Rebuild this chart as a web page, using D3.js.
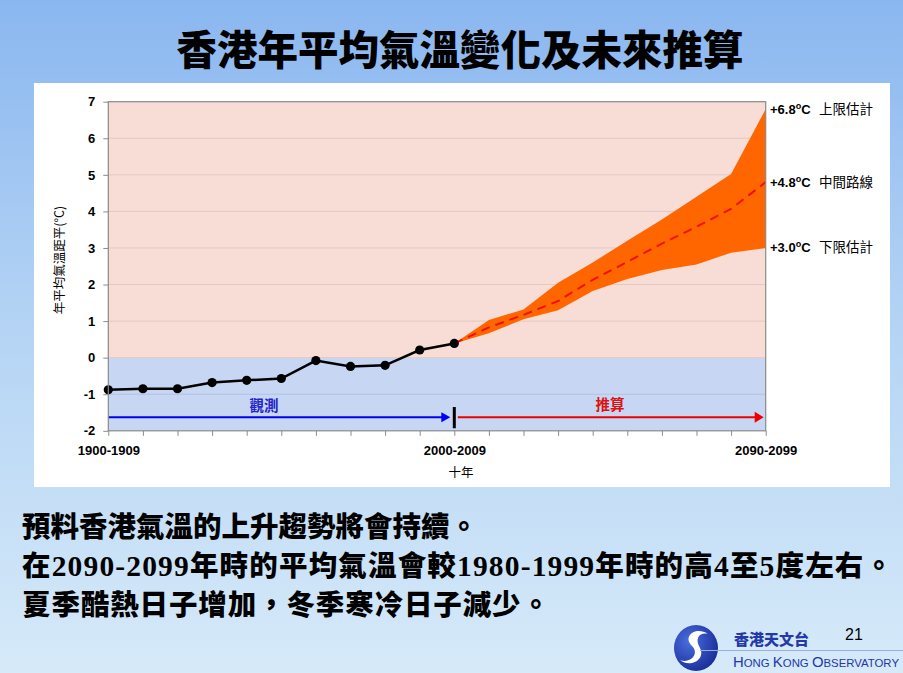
<!DOCTYPE html>
<html><head><meta charset="utf-8">
<script src="https://cdn.jsdelivr.net/npm/d3@7"></script>
<style>
html,body{margin:0;padding:0;overflow:hidden;}
svg{display:block;}
</style></head>
<body>
<script>
// ---------- data ----------
const decades = ["1900-1909","1910-1919","1920-1929","1930-1939","1940-1949","1950-1959","1960-1969","1970-1979","1980-1989","1990-1999",
                 "2000-2009","2010-2019","2020-2029","2030-2039","2040-2049","2050-2059","2060-2069","2070-2079","2080-2089","2090-2099"];
const labelledDecades = ["1900-1909","2000-2009","2090-2099"];
const observed = [-0.88,-0.85,-0.85,-0.68,-0.62,-0.57,-0.08,-0.24,-0.21,0.21,0.39];
const projDecades = decades.slice(10);
const upper  = [0.39,1.03,1.32,2.05,2.60,3.20,3.78,4.40,5.02,6.80];
const middle = [0.39,0.83,1.17,1.55,2.13,2.62,3.12,3.58,4.07,4.80];
const lower  = [0.39,0.67,1.05,1.30,1.82,2.15,2.40,2.55,2.87,3.00];
const yTicks = [-2,-1,0,1,2,3,4,5,6,7];
const endLabels = [
  {v:6.8, num:"+6.8", txt:"上限估計"},
  {v:4.8, num:"+4.8", txt:"中間路線"},
  {v:3.0, num:"+3.0", txt:"下限估計"}
];
const title = "香港年平均氣溫變化及未來推算";
const yTitle = "年平均氣溫距平(°C)";
const xTitle = "十年";
const obsLabel = "觀測", projLabel = "推算";
const arrowY = -1.63;
const bodyLines = [
  [["預料香港氣溫的上升趨勢將會持續。",0]],
  [["在",0],["2090-2099",1],["年時的平均氣溫會較",0],["1980-1999",1],["年時的高",0],["4",1],["至",0],["5",1],["度左右。",0]],
  [["夏季酷熱日子增加，冬季寒冷日子減少。",0]]
];
const bodyWidths = [456, 871, 528];
const bodyBaselines = [537, 576, 614.5];

// ---------- page ----------
const W = 903, H = 673;
const svg = d3.select("body").append("svg").attr("width",W).attr("height",H);
const defs = svg.append("defs");
const bg = defs.append("linearGradient").attr("id","bg").attr("x1",0).attr("y1",0).attr("x2",0).attr("y2",1);
bg.append("stop").attr("offset","0%").attr("stop-color","#8ab7f0");
bg.append("stop").attr("offset","45%").attr("stop-color","#b2d2f4");
bg.append("stop").attr("offset","100%").attr("stop-color","#d6eaf9");
svg.append("rect").attr("width",W).attr("height",H).attr("fill","url(#bg)");

svg.append("text").attr("x",460).attr("y",65).attr("text-anchor","middle")
  .attr("font-family","'Noto Sans CJK TC'").attr("font-weight",900).attr("font-size",40.5)
  .attr("fill","#000").text(title);

// white panel
svg.append("rect").attr("x",34).attr("y",83).attr("width",856).attr("height",404).attr("fill","#fff");

// scales
const x = d3.scaleLinear().domain([0,decades.length-1]).range([108.3,765.7]);
const y = d3.scaleLinear().domain([-2,7]).range([430.8,101.7]);
const xd = d => x(decades.indexOf(d));

const g = svg.append("g");
// backgrounds
g.append("rect").attr("x",x(0)).attr("y",y(7)).attr("width",x(19)-x(0)).attr("height",y(0)-y(7)).attr("fill","#f7ddd6");
g.append("rect").attr("x",x(0)).attr("y",y(0)).attr("width",x(19)-x(0)).attr("height",y(-2)-y(0)).attr("fill","#c6d6f3");
// grid
g.selectAll(".grid").data(yTicks.filter(t=>t>-2&&t<7)).join("line")
  .attr("x1",x(0)).attr("x2",x(19)).attr("y1",d=>y(d)).attr("y2",d=>y(d))
  .attr("stroke",d=>d<0?"#b2c2e2":"#e3c8c3").attr("stroke-width",1);

// band
const band = d3.area().x((d,i)=>xd(projDecades[i])).y0((d,i)=>y(lower[i])).y1(d=>y(d));
g.append("path").attr("d",band(upper)).attr("fill","#ff6600");
// middle
const line = d3.line().x((d,i)=>xd(projDecades[i])).y(d=>y(d));
g.append("path").attr("d",line(middle)).attr("fill","none").attr("stroke","#f01010").attr("stroke-width",2).attr("stroke-dasharray","9,6");

// observed
const obsLine = d3.line().x((d,i)=>x(i)).y(d=>y(d));
g.append("path").attr("d",obsLine(observed)).attr("fill","none").attr("stroke","#000").attr("stroke-width",2.5);
g.selectAll(".pt").data(observed).join("circle").attr("cx",(d,i)=>x(i)).attr("cy",d=>y(d)).attr("r",4.6).attr("fill","#000");

// arrows
const ay = y(arrowY);
g.append("line").attr("x1",x(0)).attr("x2",x(10)-12).attr("y1",ay).attr("y2",ay).attr("stroke","#0000ee").attr("stroke-width",2);
g.append("path").attr("d",`M${x(10)-13},${ay-5}L${x(10)-4},${ay}L${x(10)-13},${ay+5}Z`).attr("fill","#0000ee");
g.append("line").attr("x1",x(10)).attr("x2",x(10)).attr("y1",y(-1.35)).attr("y2",y(-1.93)).attr("stroke","#000").attr("stroke-width",3);
g.append("line").attr("x1",x(10)+3.5).attr("x2",x(19)-10).attr("y1",ay).attr("y2",ay).attr("stroke","#ee0000").attr("stroke-width",2);
g.append("path").attr("d",`M${x(19)-11},${ay-5.5}L${x(19)-2},${ay}L${x(19)-11},${ay+5.5}Z`).attr("fill","#ee0000");
g.append("text").attr("x",(x(4)+x(5))/2).attr("y",ay-6).attr("text-anchor","middle").attr("font-family","'Noto Sans CJK TC'").attr("font-weight",700).attr("font-size",14.5).attr("fill","#2323c8").text(obsLabel);
g.append("text").attr("x",(x(14)+x(15))/2).attr("y",ay-7).attr("text-anchor","middle").attr("font-family","'Noto Sans CJK TC'").attr("font-weight",700).attr("font-size",14.5).attr("fill","#e01010").text(projLabel);

// border
g.append("rect").attr("x",x(0)).attr("y",y(7)).attr("width",x(19)-x(0)).attr("height",y(-2)-y(7)).attr("fill","none").attr("stroke","#8a8a8a").attr("stroke-width",1.2);

// axes
const yAxis = d3.axisLeft(y).tickValues(yTicks).tickSize(5).tickPadding(8).tickFormat(d => String(d));
const ya = svg.append("g").attr("transform",`translate(${x(0)},0)`).call(yAxis);
ya.select(".domain").remove();
ya.selectAll("line").attr("stroke","#8a8a8a");
ya.selectAll("text").attr("font-family","'Liberation Sans',Arial").attr("font-weight",700).attr("font-size",13).attr("fill","#000");

const xAxis = d3.axisBottom(x).tickValues(d3.range(decades.length)).tickSize(5).tickPadding(10)
  .tickFormat(i => labelledDecades.includes(decades[i]) ? decades[i] : "");
const xa = svg.append("g").attr("transform",`translate(0,${y(-2)})`).call(xAxis);
xa.select(".domain").remove();
xa.selectAll("line").attr("stroke","#8a8a8a");
xa.selectAll("text").attr("font-family","'Liberation Sans',Arial").attr("font-weight",700).attr("font-size",13).attr("fill","#000");

svg.append("text").attr("x",461).attr("y",477).attr("text-anchor","middle").attr("font-family","'Noto Sans CJK TC'").attr("font-size",12.5).attr("fill","#000").text(xTitle);
svg.append("text").attr("transform",`translate(64,260) rotate(-90)`).attr("text-anchor","middle").attr("font-family","'Noto Sans CJK TC'").attr("font-size",12.5).attr("fill","#000").text(yTitle);

// end labels
endLabels.forEach(l=>{
  const t = svg.append("text").attr("x",770).attr("y",y(l.v)+4.5).attr("font-family","'Liberation Sans',Arial").attr("font-weight",700).attr("font-size",13).attr("fill","#000");
  t.append("tspan").text(l.num);
  t.append("tspan").attr("font-size",9).attr("dy",-5).text("o");
  t.append("tspan").attr("dy",5).text("C");
  svg.append("text").attr("x",819).attr("y",y(l.v)+4.5).attr("font-family","'Noto Sans CJK TC'").attr("font-size",13.5).attr("fill","#000").text(l.txt);
});

// body text
bodyLines.forEach((parts,li)=>{
  const t = svg.append("text").attr("x",22).attr("y",bodyBaselines[li]).attr("fill","#000")
    .attr("textLength",bodyWidths[li]).attr("lengthAdjust","spacing");
  parts.forEach(([s,serif])=>{
    t.append("tspan").attr("font-family", serif ? "'Liberation Serif'" : "'Noto Sans CJK TC'")
      .attr("font-weight", serif?700:900).attr("font-size", serif?29.5:28.5).text(s);
  });
});

// logo & page number
svg.append("text").attr("x",845).attr("y",640).attr("font-family","'Liberation Sans',Arial").attr("font-size",16).attr("fill","#000").text("21");
const lg = svg.append("g");
const lgr = defs.append("radialGradient").attr("id","lg").attr("cx","35%").attr("cy","35%").attr("r","70%");
lgr.append("stop").attr("offset","0%").attr("stop-color","#4a6ee0");
lgr.append("stop").attr("offset","100%").attr("stop-color","#1a2f9a");
lg.append("ellipse").attr("cx",696).attr("cy",648).attr("rx",22).attr("ry",23).attr("fill","url(#lg)");
lg.append("path").attr("d","M708,634 C696,626 682,636 692,646 C700,654 690,664 680,660 C690,668 706,660 700,648 C694,638 700,632 708,634Z").attr("fill","#fff");
lg.append("line").attr("x1",700).attr("x2",903).attr("y1",650.5).attr("y2",650.5).attr("stroke","#9aaed8").attr("stroke-width",1);
lg.append("text").attr("x",734).attr("y",645).attr("font-family","'Noto Sans CJK TC'").attr("font-weight",900).attr("font-size",15).attr("fill","#2438a8").text("香港天文台");
const en = lg.append("text").attr("x",733).attr("y",667).attr("font-family","'Liberation Sans Narrow','Liberation Sans'").attr("font-size",15).attr("fill","#2438a8")
  .attr("textLength",166).attr("lengthAdjust","spacingAndGlyphs");
[["H",15],["ONG ",11.5],["K",15],["ONG ",11.5],["O",15],["BSERVATORY",11.5]].forEach(([s,f])=>en.append("tspan").attr("font-size",f).text(s));
</script>
</body></html>
